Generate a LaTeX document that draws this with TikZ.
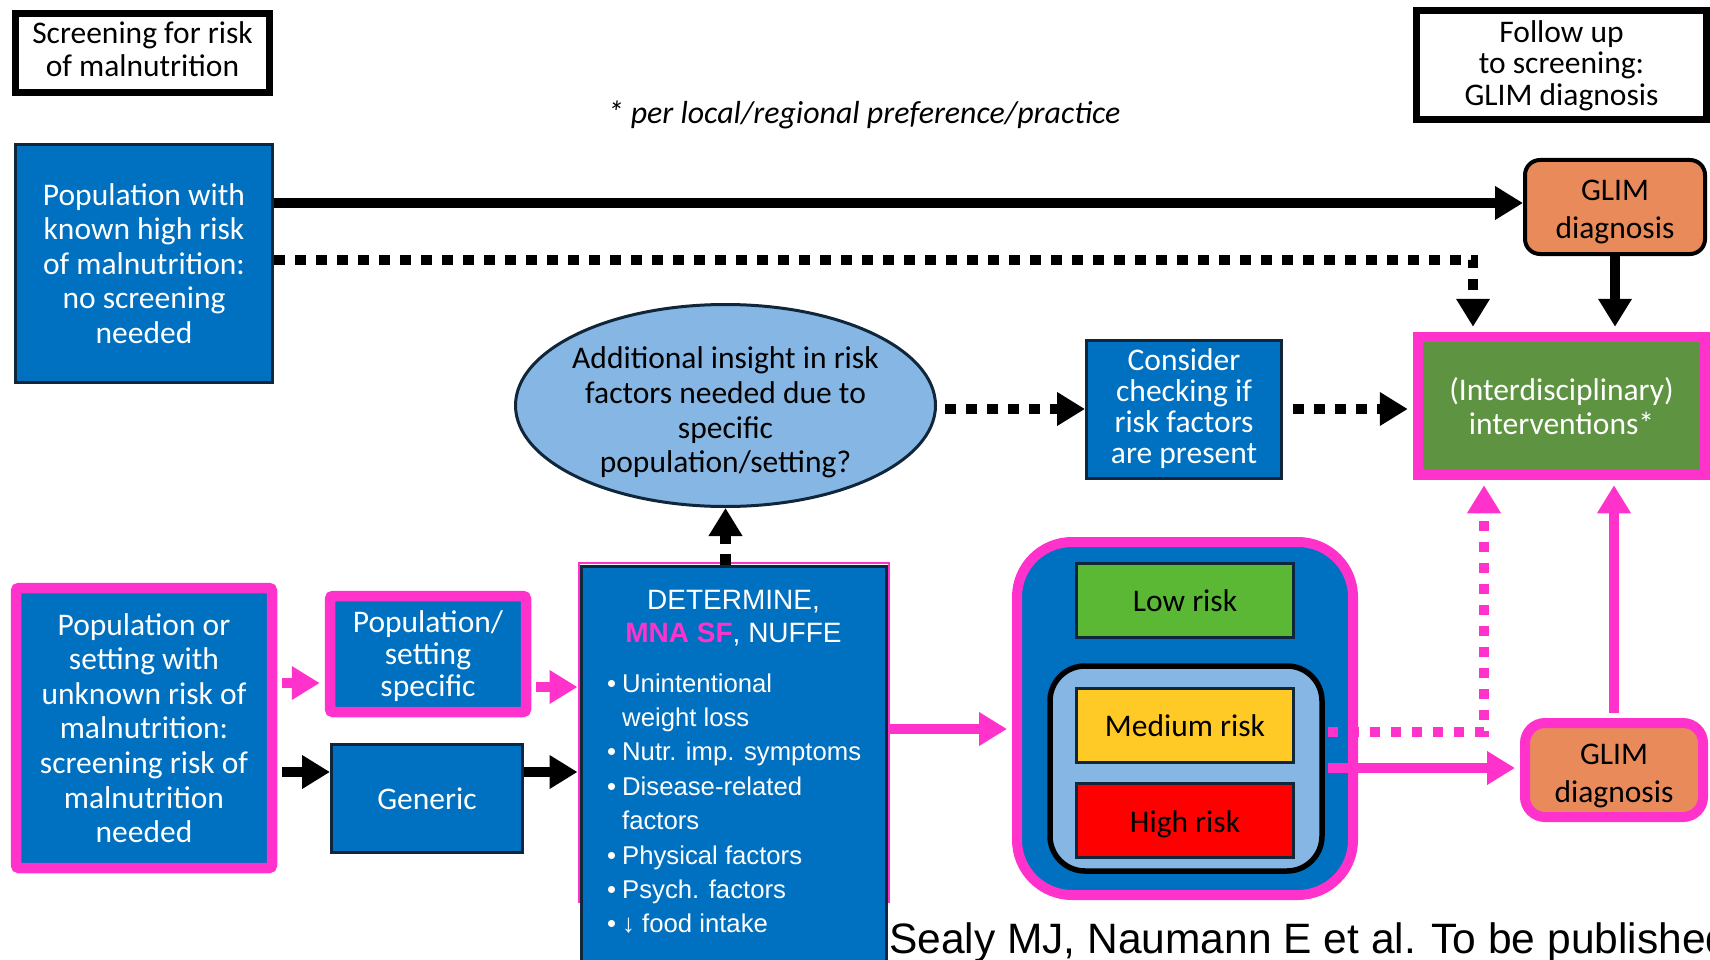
\documentclass[tikz,border=0pt]{standalone}
\usepackage{fontspec}
\setmainfont{Carlito}
\newfontfamily\arialf{Liberation Sans}
\usetikzlibrary{arrows.meta,shapes.geometric}
\definecolor{cblue}{HTML}{0070C0}
\definecolor{cnavy}{HTML}{10263A}
\definecolor{cpink}{HTML}{FF33CC}
\definecolor{corange}{HTML}{E98A5A}
\definecolor{cgreen}{HTML}{5E9441}
\definecolor{clight}{HTML}{86B6E3}
\definecolor{clow}{HTML}{5BB834}
\definecolor{cyel}{HTML}{FFC926}
\definecolor{cred}{HTML}{FF0000}
\begin{document}
\begin{tikzpicture}[x=1pt,y=-1pt,
 txt/.style={font=\fontsize{31.5}{34.6}\selectfont, align=center, inner sep=0pt},
 bluebox/.style={txt, draw=cnavy, line width=3pt, fill=cblue, text=white},
 pinkbox/.style={txt, draw=cpink, line width=10.5pt, fill=cblue, text=white, rounded corners=3pt},
 hdrbox/.style={txt, draw=black, line width=7pt, fill=white, text=black},
 glim/.style={txt, fill=corange},
 glimtxt/.style={txt, text=black, font=\fontsize{31.5}{38}\selectfont},
 riskbox/.style={txt, draw=cnavy, line width=3pt, text=black, minimum width=217pt, minimum height=74pt},
 dettxt/.style={font=\arialf\fontsize{28}{33}\selectfont, text=white, inner sep=0pt, anchor=base},
 detb/.style={font=\arialf\fontsize{25.7}{30}\selectfont, text=white, inner sep=0pt, anchor=base west},
 tip/.style={-{Triangle[length=28pt,width=32pt]}},
 solidblk/.style={tip, line width=10pt, draw=black},
 dotblk/.style={tip, line width=10.5pt, draw=black, dash pattern=on 10.5pt off 10.5pt},
 solidpink/.style={tip, line width=10pt, draw=cpink},
 dotpink/.style={tip, line width=10.5pt, draw=cpink, dash pattern=on 10.5pt off 10.5pt},
]
\useasboundingbox (0,0) rectangle (1710,960);

% header boxes and note
\node[hdrbox, minimum width=254pt, minimum height=79pt] (scr) at (142.5,53) {};
\node[txt, text=black, font=\fontsize{31.5}{32.7}\selectfont] (scrt) at (142.5,49.5) {Screening for risk\\of malnutrition};
\node[hdrbox, minimum width=290pt, minimum height=109pt, font=\fontsize{31.5}{31.7}\selectfont] (fup) at (1561.5,65.5) {Follow up\\to screening:\\GLIM diagnosis};
\node[txt, font=\itshape\fontsize{31.9}{34}\selectfont] (note) at (864,115) {* per local/regional preference/practice};

% top row
\node[bluebox, minimum width=257pt, minimum height=238pt] (known) at (144,263.5) {Population with\\known high risk\\of malnutrition:\\no screening\\needed};
\node[glim, draw=black, line width=4pt, rounded corners=15pt, minimum width=180pt, minimum height=94pt] (glimA) at (1615,207) {};
\node[glimtxt] (glimAt) at (1615,211.5) {GLIM\\diagnosis};
\node[txt, draw=cpink, line width=10.5pt, fill=cgreen, text=white, minimum width=287pt, minimum height=138pt, font=\fontsize{31.5}{33.3}\selectfont] (intv) at (1561.5,406) {(Interdisciplinary)\\interventions*};
\node[ellipse, draw=cnavy, line width=3pt, fill=clight, minimum width=420pt, minimum height=202pt, inner sep=0pt] (ell) at (725.5,405.5) {};
\node[txt, text=black] (ellt) at (725.5,412.5) {Additional insight in risk\\factors needed due to\\specific\\population/setting?};
\node[bluebox, minimum width=195pt, minimum height=138pt, font=\fontsize{31.5}{31}\selectfont] (cons) at (1184,409) {Consider\\checking if\\risk factors\\are present};

% bottom left
\node[pinkbox, minimum width=256pt, minimum height=280pt] (pop) at (144,728) {Population or\\setting with\\unknown risk of\\malnutrition:\\screening risk of\\malnutrition\\needed};
\node[pinkbox, minimum width=196pt, minimum height=116pt] (spec) at (428,654) {};
\node[txt, text=white, font=\fontsize{31.5}{31.7}\selectfont] (spect) at (428,656.2) {Population/\\setting\\specific};
\node[bluebox, minimum width=191pt, minimum height=108pt] (gen) at (427,798.5) {Generic};

% DETERMINE box
\node[draw=cpink, line width=2pt, minimum width=310pt, minimum height=339pt, inner sep=0pt] (detf) at (733.5,732) {};
\node[draw=cnavy, line width=3pt, fill=cblue, minimum width=305pt, minimum height=410pt, inner sep=0pt] (det) at (733.5,771) {};
\node[dettxt] (dt1) at (733.5,609) {DETERMINE,};
\node[dettxt] (dt2) at (733.5,642) {\textbf{\textcolor{cpink}{MNA SF}}, NUFFE};
\node[detb] (dl1) at (607,692) {\makebox[15pt][l]{•}Unintentional};
\node[detb] (dl2) at (622,726.4) {weight loss};
\node[detb] (dl3) at (607,760.8) {\makebox[15pt][l]{•}Nutr. imp. symptoms};
\node[detb] (dl4) at (607,795.2) {\makebox[15pt][l]{•}Disease-related};
\node[detb] (dl5) at (622,829.6) {factors};
\node[detb] (dl6) at (607,864) {\makebox[15pt][l]{•}Physical factors};
\node[detb] (dl7) at (607,898.4) {\makebox[15pt][l]{•}Psych. factors};
\node[detb] (dl8) at (607,932.8) {\makebox[15pt][l]{•}↓ food intake};

% risk container
\node[txt, draw=cpink, line width=10pt, fill=cblue, rounded corners=55pt, minimum width=336pt, minimum height=353pt] (risk) at (1185,718.5) {};
\node[txt, draw=black, line width=5.5pt, fill=clight, rounded corners=35pt, minimum width=272pt, minimum height=205pt] (mid) at (1186,768.5) {};
\node[riskbox, fill=clow] (low) at (1185,600.5) {Low risk};
\node[riskbox, fill=cyel] (med) at (1185,725.5) {Medium risk};
\node[riskbox, fill=cred] (high) at (1185,820) {};
\node[txt, text=black] (hight) at (1185,824) {High risk};

\node[glim, draw=cpink, line width=10pt, rounded corners=20pt, minimum width=178pt, minimum height=94pt] (glimB) at (1614,770) {};
\node[glimtxt] (glimBt) at (1614,775.5) {GLIM\\diagnosis};

% citation
\node[font=\arialf\fontsize{42.5}{48}\selectfont, anchor=base west, inner sep=0pt] (cite) at (889,953) {Sealy MJ, Naumann E et al. To be published};

% helper levels
\coordinate (yA) at (0,203);
\coordinate (yP1) at (0,683);
\coordinate (yP2) at (0,687);
\coordinate (yK) at (0,772);
\coordinate (yR) at (0,729);
\coordinate (yH) at (0,768);
\coordinate (bk) at (1473,260);
\coordinate (bp) at (1484,732);

% connectors
\draw[solidblk] (known.east |- yA) -- (glimA.west |- yA);
\draw[dotblk, shorten >=5pt] (known.east |- bk) -- (bk) -- (bk |- intv.north);
\draw[solidblk, shorten >=5pt] (glimA.south) -- (glimA.south |- intv.north);
\draw[dotblk] (ell.south |- det.north) -- (ell.south);
\draw[dotblk, shorten <=8pt] (ell.east |- cons.west) -- (cons.west);
\draw[dotblk, shorten <=10pt, shorten >=5pt] (cons.east) -- (cons.east -| intv.west);
\draw[solidpink, shorten <=5pt, shorten >=5pt] (pop.east |- yP1) -- (spec.west |- yP1);
\draw[solidpink, shorten <=5pt] (spec.east |- yP2) -- (detf.west |- yP2);
\draw[solidblk, shorten <=5pt] (pop.east |- yK) -- (gen.west |- yK);
\draw[solidblk] (gen.east |- yK) -- (detf.west |- yK);
\draw[solidpink, shorten >=5pt] (detf.east |- yR) -- (risk.west |- yR);
\draw[dotpink, shorten <=3pt, shorten >=5pt] (mid.east |- bp) -- (bp) -- (bp |- intv.south);
\draw[solidpink, shorten <=3pt, shorten >=5pt] (mid.east |- yH) -- (glimB.west |- yH);
\draw[solidpink, shorten <=5pt, shorten >=5pt] (glimB.north) -- (glimB.north |- intv.south);
\end{tikzpicture}
\end{document}
